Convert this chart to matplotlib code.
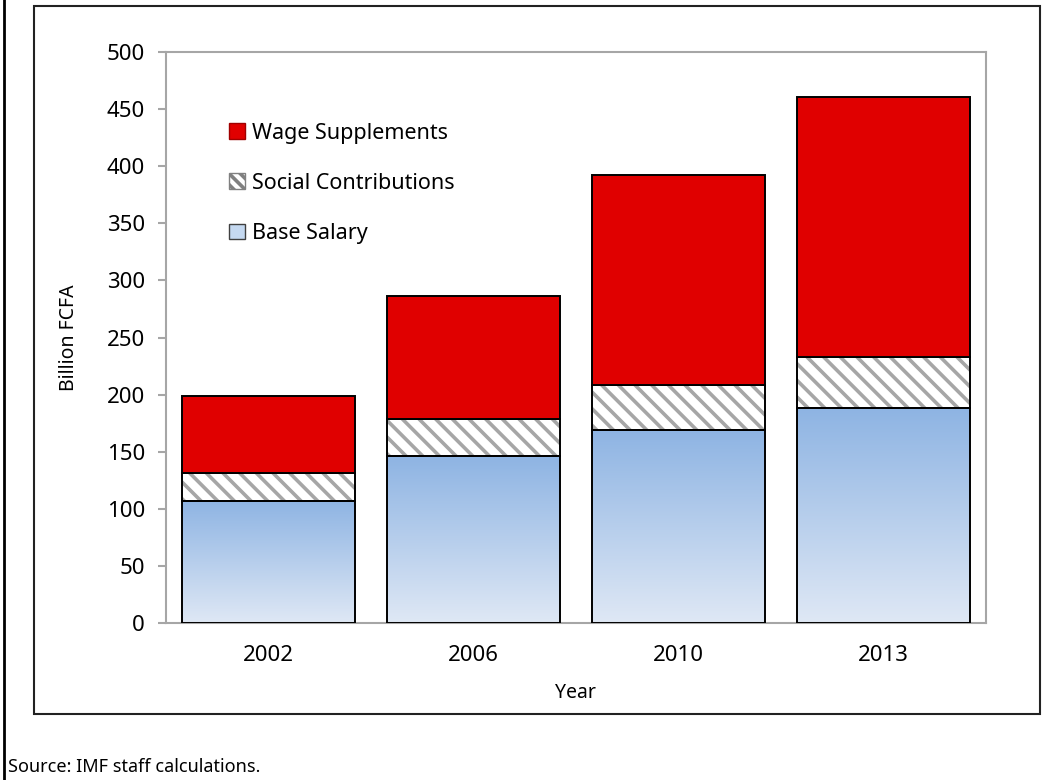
import numpy as np
import matplotlib
matplotlib.use("Agg")
import matplotlib.pyplot as plt
from matplotlib.patches import Patch, Rectangle
from matplotlib.lines import Line2D
from matplotlib.colors import LinearSegmentedColormap

plt.rcParams['font.family'] = ['Noto Sans', 'DejaVu Sans']
plt.rcParams['hatch.linewidth'] = 2.6

# data (billion FCFA)
years = ['2002', '2006', '2010', '2013']
base_salary = [107, 146, 169, 188]
social_contrib = [24, 33, 39, 45]
wage_supp = [68, 107, 184, 228]

fig = plt.figure(figsize=(10.47, 7.8), dpi=100)
ax = fig.add_axes([0.1585, 0.2013, 0.7832, 0.732])

x = np.arange(len(years))
w = 0.84
base = np.array(base_salary, dtype=float)
soc = np.array(social_contrib, dtype=float)
wage = np.array(wage_supp, dtype=float)

blue = LinearSegmentedColormap.from_list('bl', ['#dfe8f5', '#8eb4e3'])
grad = np.linspace(0, 1, 256).reshape(-1, 1)

bars_b = ax.bar(x, base, w, facecolor='none', edgecolor='black', linewidth=1.4, zorder=3)
for r in bars_b:
    im = ax.imshow(grad, cmap=blue, origin='lower', aspect='auto', zorder=2,
                   extent=[r.get_x(), r.get_x() + r.get_width(), 0, r.get_height()])
    im.set_clip_path(r)
# hatch drawn in grey, outline drawn on top in black
ax.bar(x, soc, w, bottom=base, facecolor='white', edgecolor='#a6a6a6',
       hatch='\\\\', linewidth=0, zorder=2)
ax.bar(x, soc, w, bottom=base, facecolor='none', edgecolor='black',
       linewidth=1.4, zorder=3)
ax.bar(x, wage, w, bottom=base + soc, facecolor='#e00000', edgecolor='black',
       linewidth=1.4, zorder=3)

ax.set_xlim(-0.5, len(years) - 0.5)
ax.set_ylim(0, 500)
ax.set_yticks(np.arange(0, 501, 50))
ax.set_xticks(x)
ax.set_xticklabels(years)
for s in ax.spines.values():
    s.set_color('#a6a6a6')
    s.set_linewidth(1.5)
ax.tick_params(axis='y', direction='out', length=6, width=1.5, color='#a6a6a6',
               labelsize=16, pad=9)
ax.tick_params(axis='x', length=0, labelsize=16, pad=16)
ax.set_xlabel('Year', fontsize=14, labelpad=12)
ax.set_ylabel('Billion FCFA', fontsize=14, labelpad=20)

handles = [
    Patch(facecolor='#e00000', edgecolor='#a00000', linewidth=1.0),
    Patch(facecolor='white', edgecolor='#808080', hatch='\\\\\\', linewidth=1.0),
    Patch(facecolor='#c5d9f1', edgecolor='#404040', linewidth=1.0),
]
labels = ['Wage Supplements', 'Social Contributions', 'Base Salary']
ax.legend(handles, labels, loc='upper left', bbox_to_anchor=(0.053, 0.91),
          frameon=False, fontsize=15.5, handlelength=0.75, handleheight=0.75,
          handletextpad=0.35, labelspacing=1.35)

# frames
fig.add_artist(Rectangle((34 / 1047, 1 - 714 / 780), (1040 - 34) / 1047, (714 - 6) / 780,
                         transform=fig.transFigure, fill=False, edgecolor='#222222',
                         linewidth=1.5))
fig.add_artist(Line2D([4 / 1047, 4 / 1047], [0, 1], transform=fig.transFigure,
                      color='black', linewidth=2))

fig.text(8 / 1047, 1 - 767 / 780, 'Source: IMF staff calculations.', fontsize=13,
         va='center', ha='left')

fig.savefig('out.png', dpi=100)
